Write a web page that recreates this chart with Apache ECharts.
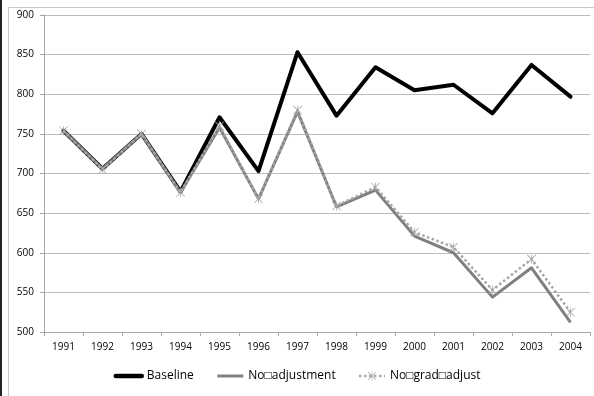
<!DOCTYPE html>
<html>
<head>
<meta charset="utf-8">
<script src="https://cdn.jsdelivr.net/npm/echarts@6/dist/echarts.min.js"></script>
<style>
  html, body { margin: 0; padding: 0; background: #fff; }
  #chart { width: 594px; height: 396px; }
</style>
</head>
<body>
<div id="chart"></div>
<script>
// ===== 数据 =====
var years = ['1991', '1992', '1993', '1994', '1995', '1996', '1997',
             '1998', '1999', '2000', '2001', '2002', '2003', '2004'];
var baseline     = [754, 706, 750, 677, 771, 703, 853, 773, 834, 805, 812, 776, 837, 797];
var noAdjustment = [754, 706, 750, 676, 758, 668, 778, 658, 679, 621, 600, 544, 581, 512];
var noGradAdjust = [754, 705, 750, 676, 760, 668, 780, 659, 683, 626, 607, 553, 592, 525];

// 原图中的缺字方框保留为 □
var seriesNames = ['Baseline', 'No\u25A1adjustment', 'No\u25A1grad\u25A1adjust'];

// 星号标记（X + 竖线）
var asterisk = 'path://M9.2,0L10.8,0L10.8,20L9.2,20Z' +
  'M0,1.2L1.2,0L20,18.8L18.8,20Z' +
  'M18.8,0L20,1.2L1.2,20L0,18.8Z';

var font = 'Open Sans';
var chart = echarts.init(document.getElementById('chart'));

var option = {
  backgroundColor: '#fff',
  animation: false,
  textStyle: { fontFamily: font },
  graphic: [
    {
      type: 'rect',
      shape: { x: 8.5, y: 7.5, width: 600, height: 400 },
      style: { fill: 'none', stroke: '#c8c8c8', lineWidth: 1 },
      silent: true
    },
    {
      type: 'line',
      shape: { x1: 1, y1: 0, x2: 1, y2: 396 },
      style: { stroke: '#222', lineWidth: 2 },
      silent: true
    }
  ],
  grid: { left: 44, right: 4, top: 15, bottom: 64 },
  legend: {
    bottom: 9,
    left: 'center',
    itemWidth: 26,
    itemHeight: 10,
    itemGap: 22,
    textStyle: { fontFamily: font, fontSize: 12, color: '#000' },
    data: [
      { name: seriesNames[0], itemStyle: { opacity: 0 }, lineStyle: { width: 4.5 } },
      { name: seriesNames[1], itemStyle: { opacity: 0 }, lineStyle: { width: 3 } },
      { name: seriesNames[2], lineStyle: { width: 2.5 } }
    ]
  },
  xAxis: {
    type: 'category',
    data: years,
    boundaryGap: true,
    axisLine: { lineStyle: { color: '#a6a6a6', width: 1 } },
    axisTick: { show: true, length: 4, lineStyle: { color: '#a6a6a6' } },
    axisLabel: { color: '#000', fontSize: 10, fontFamily: font, margin: 10 },
    splitLine: { show: false }
  },
  yAxis: {
    type: 'value',
    min: 500,
    max: 900,
    interval: 50,
    axisLine: { show: true, lineStyle: { color: '#a6a6a6', width: 1 } },
    axisTick: { show: true, length: 4, lineStyle: { color: '#a6a6a6' } },
    axisLabel: { color: '#000', fontSize: 10, fontFamily: font, margin: 10 },
    splitLine: { lineStyle: { color: '#bdbdbd', width: 1 } }
  },
  series: [
    {
      name: seriesNames[0],
      type: 'line',
      data: baseline,
      symbol: 'none',
      lineStyle: { color: '#000', width: 4, cap: 'round', join: 'round' },
      itemStyle: { color: '#000' },
      z: 2
    },
    {
      name: seriesNames[1],
      type: 'line',
      data: noAdjustment,
      symbol: 'none',
      lineStyle: { color: '#808080', width: 3, join: 'round' },
      itemStyle: { color: '#808080' },
      z: 3
    },
    {
      name: seriesNames[2],
      type: 'line',
      data: noGradAdjust,
      symbol: asterisk,
      symbolSize: 9,
      showAllSymbol: true,
      lineStyle: { color: '#a6a6a6', width: 2.5, type: 'dotted' },
      itemStyle: { color: '#a6a6a6' },
      z: 4
    }
  ]
};

chart.setOption(option);
</script>
</body>
</html>
